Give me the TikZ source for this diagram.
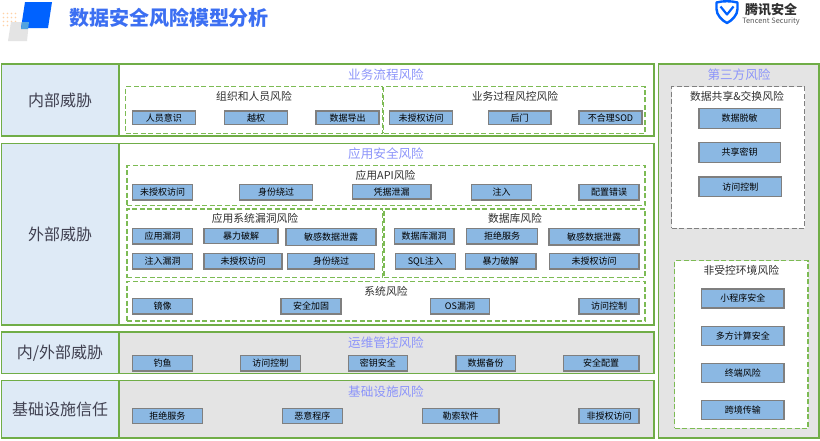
\documentclass[tikz,border=0pt]{standalone}
\usepackage{fontspec}
\setmainfont{Noto Sans CJK SC}
\definecolor{gr}{HTML}{70AD47}
\definecolor{dgr}{HTML}{7DBB54}
\definecolor{sidefill}{HTML}{DEEAF6}
\definecolor{panelgray}{HTML}{E4E4E4}
\definecolor{chipfill}{HTML}{8BB8E3}
\definecolor{chipedge}{HTML}{7F7F7F}
\definecolor{headblue}{HTML}{8C94FA}
\definecolor{titleblue}{HTML}{3C6FF2}
\definecolor{logoblue}{HTML}{0062FF}
\definecolor{sidetext}{HTML}{404050}
\definecolor{darktext}{HTML}{303030}
\tikzset{
  sidebox/.style={draw=gr,line width=1.3pt,fill=sidefill,text=sidetext,font=\fontsize{16}{18}\selectfont},
  whitepanel/.style={draw=gr,line width=1.3pt,fill=white},
  graypanel/.style={draw=gr,line width=1.3pt,fill=panelgray},
  greendash/.style={draw=dgr,line width=1.4pt,dash pattern=on 5pt off 2.5pt,fill=white},
  graydash/.style={draw=chipedge,line width=1.4pt,dash pattern=on 5pt off 2.5pt,fill=white},
  chip/.style={draw=chipedge,line width=1.3pt,fill=chipfill,text=black,font=\fontsize{9}{10}\selectfont},
  headlabel/.style={text=headblue,font=\fontsize{12.6}{14}\selectfont,inner sep=0pt},
  sublabel/.style={text=darktext,font=\fontsize{10.8}{12}\selectfont,inner sep=0pt},
}
\newcommand{\bx}[7]{%
  \pgfmathsetmacro{\bw}{#5-#3}\pgfmathsetmacro{\bh}{#6-#4}%
  \pgfmathsetmacro{\bcx}{(#3+#5)/2}\pgfmathsetmacro{\bcy}{(#4+#6)/2}%
  \node[#1,rectangle,inner sep=0pt,outer sep=0pt,minimum width=\bw pt,minimum height=\bh pt] (#2) at (\bcx,\bcy) {#7};}
\begin{document}
\begin{tikzpicture}[x=1pt,y=-1pt]
\useasboundingbox (0,0) rectangle (820,440);
\fill[white] (0,0) rectangle (820,440);
% logo
\foreach \yy in {13.5,17.5,21.5,25.5} \foreach \xx in {3.5,7.5,11.5,15.5}
  \fill[orange!35] (\xx,\yy) circle (0.8pt);
\fill[panelgray] (11,22) -- (29,22) -- (27,41) -- (8,41) -- cycle;
\fill[logoblue] (25,2) -- (52,2) -- (48,28) -- (21,28) -- cycle;
\fill[cyan!70!blue!70] (22,22) -- (29,22) -- (28,29) -- (21,29) -- cycle;
\node[text=titleblue,font=\fontsize{20}{22}\selectfont\bfseries,inner sep=0pt,anchor=center] (title) at (169,18) {数据安全风险模型分析};
% tencent logo
\draw[logoblue,line width=2.4pt,line join=round] (716.5,2.5) .. controls (723,0.8) and (731,0.8) .. (737.5,2.5) -- (737.5,9) .. controls (737.5,15) and (732,20.5) .. (727,23) .. controls (722,20.5) and (716.5,15) .. (716.5,9) -- cycle;
\draw[logoblue,line width=2.2pt,line join=round] (720.5,6.5) -- (727,14.5) -- (733.5,6.5);
\node[text=darktext,font=\fontsize{13}{14}\selectfont\bfseries,inner sep=0pt] (brand) at (771,10) {腾讯安全};
\node[text=darktext!80,font=\fontsize{7.4}{9}\selectfont,inner sep=0pt] (brandsub) at (771,21.7) {Tencent Security};
% left column
\bx{sidebox}{sideA}{1.2}{64}{119}{136}{内部威胁}
\bx{sidebox}{sideB}{1.2}{143.5}{119}{325}{外部威胁}
\bx{sidebox}{sideC}{1.2}{332}{119}{373.7}{内/外部威胁}
\bx{sidebox}{sideD}{1.2}{380.7}{119}{438}{基础设施信任}
% panels
\bx{whitepanel}{panelA}{119}{64}{654}{136}{}
\bx{whitepanel}{panelB}{119}{143.5}{654}{325}{}
\bx{graypanel}{panelC}{119}{332}{654}{373.7}{}
\bx{graypanel}{panelD}{119}{380.7}{654}{438}{}
\bx{graypanel}{panelE}{658.3}{64}{819}{438}{}
% headings
\node[headlabel] (headA) at (386,75) {业务流程风险};
\node[headlabel] (headB) at (386,154) {应用安全风险};
\node[headlabel] (headC) at (386,343) {运维管控风险};
\node[headlabel] (headD) at (386,391.7) {基础设施风险};
\node[headlabel] (headE) at (739,75) {第三方风险};
% dashed groups
\bx{greendash}{grpOrg}{125.7}{86.7}{382.7}{133.3}{}
\bx{greendash}{grpBiz}{383.5}{86.7}{645}{133.3}{}
\bx{greendash}{grpApi}{127}{165.7}{645}{205.3}{}
\bx{greendash}{grpVul}{127}{209}{382.7}{277.7}{}
\bx{greendash}{grpDb}{384}{209}{645}{277.7}{}
\bx{greendash}{grpSys}{127}{281.3}{645}{321}{}
\bx{graydash}{grpShare}{671.7}{86.7}{804.7}{228.3}{}
\bx{greendash}{grpEnv}{674.7}{260.7}{808}{428.3}{}
% group labels
\node[sublabel] (lblOrg) at (254,96) {组织和人员风险};
\node[sublabel] (lblBiz) at (515,96) {业务过程风控风险};
\node[sublabel] (lblApi) at (385.5,175) {应用API风险};
\node[sublabel] (lblVul) at (255,218) {应用系统漏洞风险};
\node[sublabel] (lblDb) at (515,218) {数据库风险};
\node[sublabel] (lblSys) at (386,291) {系统风险};
\node[sublabel] (lblShare) at (737,96) {数据共享\&交换风险};
\node[sublabel] (lblEnv) at (741.3,270.3) {非受控环境风险};
% row 1 chips
\bx{chip}{a1}{132.3}{111}{195.3}{124.7}{人员意识}
\bx{chip}{a2}{224.3}{111}{287.7}{124.7}{越权}
\bx{chip}{a3}{316}{111}{379}{124.7}{数据导出}
\bx{chip}{a4}{389.3}{111}{452.7}{124.7}{未授权访问}
\bx{chip}{a5}{488.3}{111}{551}{124.7}{后门}
\bx{chip}{a6}{579}{111}{642}{124.7}{不合理SOD}
% API chips
\bx{chip}{b1}{132.3}{184.7}{192.7}{200}{未授权访问}
\bx{chip}{b2}{239.7}{184.7}{312.7}{200}{身份绕过}
\bx{chip}{b3}{352.3}{184.7}{431}{199}{凭据泄漏}
\bx{chip}{b4}{471.7}{184.7}{531.7}{200}{注入}
\bx{chip}{b5}{579}{184.7}{639}{200}{配置错误}
% vuln chips
\bx{chip}{c1}{132.3}{228.3}{192.7}{244}{应用漏洞}
\bx{chip}{c2}{204}{228.3}{278}{243.3}{暴力破解}
\bx{chip}{c3}{286}{228.3}{376}{245.3}{敏感数据泄露}
\bx{chip}{c4}{132.3}{253.3}{192.7}{269}{注入漏洞}
\bx{chip}{c5}{204}{253.3}{282}{269}{未授权访问}
\bx{chip}{c6}{287.3}{253.3}{374.7}{269}{身份绕过}
% db chips
\bx{chip}{d1}{394.3}{228.3}{454}{244}{数据库漏洞}
\bx{chip}{d2}{466.7}{228.3}{537.3}{244}{拒绝服务}
\bx{chip}{d3}{549}{228.3}{639}{245}{敏感数据泄露}
\bx{chip}{d4}{395.3}{253.3}{455.3}{269}{SQL注入}
\bx{chip}{d5}{465.3}{253.3}{536}{269}{暴力破解}
\bx{chip}{d6}{549.3}{253.3}{639}{269}{未授权访问}
% system chips
\bx{chip}{e1}{132.3}{298.3}{192.7}{314}{镜像}
\bx{chip}{e2}{281}{298.3}{341}{314}{安全加固}
\bx{chip}{e3}{430.3}{298.3}{489.7}{314}{OS漏洞}
\bx{chip}{e4}{579}{298.3}{639}{314}{访问控制}
% ops chips
\bx{chip}{f1}{132.3}{355.3}{192.7}{371}{钓鱼}
\bx{chip}{f2}{240.3}{355.3}{300.3}{371}{访问控制}
\bx{chip}{f3}{348.3}{355.3}{407.3}{371}{密钥安全}
\bx{chip}{f4}{456}{355.3}{515.3}{371}{数据备份}
\bx{chip}{f5}{563.3}{355.3}{639}{371}{安全配置}
% infra chips
\bx{chip}{g1}{132.3}{408.3}{202.3}{423.7}{拒绝服务}
\bx{chip}{g2}{282.3}{408.3}{342.3}{423.7}{恶意程序}
\bx{chip}{g3}{422.3}{408.3}{499}{423.7}{勒索软件}
\bx{chip}{g4}{579}{408.3}{639}{423.7}{非授权访问}
% third party chips
\bx{chip}{h1}{699}{108.3}{780.3}{128.3}{数据脱敏}
\bx{chip}{h2}{699}{142.7}{780.3}{162.3}{共享密钥}
\bx{chip}{h3}{699}{177}{781.7}{196.7}{访问控制}
\bx{chip}{i1}{701.7}{289}{784}{308}{小程序安全}
\bx{chip}{i2}{701.7}{326.3}{784}{345.3}{多方计算安全}
\bx{chip}{i3}{701.7}{363.7}{784}{382.3}{终端风险}
\bx{chip}{i4}{701.7}{400.7}{784}{419.7}{跨境传输}
\end{tikzpicture}
\end{document}
